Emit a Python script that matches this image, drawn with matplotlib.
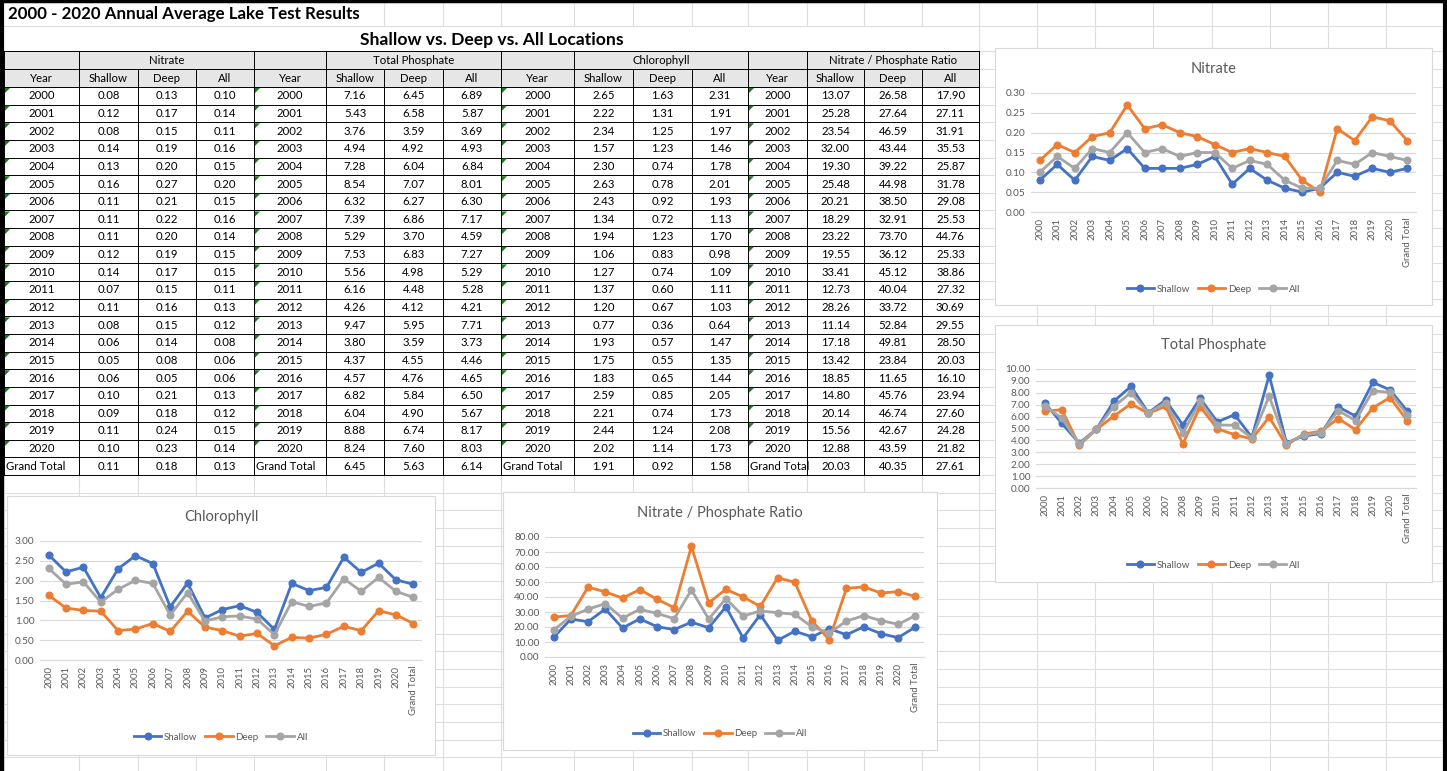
import numpy as np
import matplotlib.pyplot as plt
from matplotlib.patches import Rectangle, Polygon

plt.rcParams['font.family'] = ['Lato', 'DejaVu Sans']

# ---- data (as shown in the sheet) ----
years = [str(y) for y in range(2000, 2021)] + ['Grand Total']

nitrate_shallow = [0.08, 0.12, 0.08, 0.14, 0.13, 0.16, 0.11, 0.11, 0.11, 0.12, 0.14,
                   0.07, 0.11, 0.08, 0.06, 0.05, 0.06, 0.10, 0.09, 0.11, 0.10, 0.11]
nitrate_deep = [0.13, 0.17, 0.15, 0.19, 0.20, 0.27, 0.21, 0.22, 0.20, 0.19, 0.17,
                0.15, 0.16, 0.15, 0.14, 0.08, 0.05, 0.21, 0.18, 0.24, 0.23, 0.18]
nitrate_all = [0.10, 0.14, 0.11, 0.16, 0.15, 0.20, 0.15, 0.16, 0.14, 0.15, 0.15,
               0.11, 0.13, 0.12, 0.08, 0.06, 0.06, 0.13, 0.12, 0.15, 0.14, 0.13]

phos_shallow = [7.16, 5.43, 3.76, 4.94, 7.28, 8.54, 6.32, 7.39, 5.29, 7.53, 5.56,
                6.16, 4.26, 9.47, 3.80, 4.37, 4.57, 6.82, 6.04, 8.88, 8.24, 6.45]
phos_deep = [6.45, 6.58, 3.59, 4.92, 6.04, 7.07, 6.27, 6.86, 3.70, 6.83, 4.98,
             4.48, 4.12, 5.95, 3.59, 4.55, 4.76, 5.84, 4.90, 6.74, 7.60, 5.63]
phos_all = [6.89, 5.87, 3.69, 4.93, 6.84, 8.01, 6.30, 7.17, 4.59, 7.27, 5.29,
            5.28, 4.21, 7.71, 3.73, 4.46, 4.65, 6.50, 5.67, 8.17, 8.03, 6.14]

chl_shallow = [2.65, 2.22, 2.34, 1.57, 2.30, 2.63, 2.43, 1.34, 1.94, 1.06, 1.27,
               1.37, 1.20, 0.77, 1.93, 1.75, 1.83, 2.59, 2.21, 2.44, 2.02, 1.91]
chl_deep = [1.63, 1.31, 1.25, 1.23, 0.74, 0.78, 0.92, 0.72, 1.23, 0.83, 0.74,
            0.60, 0.67, 0.36, 0.57, 0.55, 0.65, 0.85, 0.74, 1.24, 1.14, 0.92]
chl_all = [2.31, 1.91, 1.97, 1.46, 1.78, 2.01, 1.93, 1.13, 1.70, 0.98, 1.09,
           1.11, 1.03, 0.64, 1.47, 1.35, 1.44, 2.05, 1.73, 2.08, 1.73, 1.58]

ratio_shallow = [13.07, 25.28, 23.54, 32.00, 19.30, 25.48, 20.21, 18.29, 23.22, 19.55, 33.41,
                 12.73, 28.26, 11.14, 17.18, 13.42, 18.85, 14.80, 20.14, 15.56, 12.88, 20.03]
ratio_deep = [26.58, 27.64, 46.59, 43.44, 39.22, 44.98, 38.50, 32.91, 73.70, 36.12, 45.12,
              40.04, 33.72, 52.84, 49.81, 23.84, 11.65, 45.76, 46.74, 42.67, 43.59, 40.35]
ratio_all = [17.90, 27.11, 31.91, 35.53, 25.87, 31.78, 29.08, 25.53, 44.76, 25.33, 38.86,
             27.32, 30.69, 29.55, 28.50, 20.03, 16.10, 23.94, 27.60, 24.28, 21.82, 27.61]

blocks = [
    ('Nitrate', nitrate_shallow, nitrate_deep, nitrate_all),
    ('Total Phosphate', phos_shallow, phos_deep, phos_all),
    ('Chlorophyll', chl_shallow, chl_deep, chl_all),
    ('Nitrate / Phosphate Ratio', ratio_shallow, ratio_deep, ratio_all),
]

BLUE, ORANGE, GREY = '#4472C4', '#ED7D31', '#A5A5A5'
TXT = '#595959'
GRIDC = '#dedede'

W, H = 1447, 771
fig = plt.figure(figsize=(W / 100, H / 100), dpi=100)
bg = fig.add_axes([0, 0, 1, 1])
bg.set_xlim(0, W)
bg.set_ylim(H, 0)
bg.axis('off')

# ---- sheet grid ----
col_x = [4, 79, 138, 196, 254, 326, 384, 443, 501, 574, 633, 692, 748, 807, 864, 922, 979,
         1037, 1095, 1153, 1212, 1270, 1328, 1386, 1444]
rh = 17.64
row_y = [26, 51, 69, 87] + [87 + rh * k for k in range(1, 40)]
for x in col_x:
    if x > 370:
        bg.plot([x, x], [0, 26], color=GRIDC, lw=0.8, zorder=0)
    if x > 970:
        bg.plot([x, x], [26, 51], color=GRIDC, lw=0.8, zorder=0)
    bg.plot([x, x], [51, H], color=GRIDC, lw=0.8, zorder=0)
for y in row_y:
    bg.plot([4, W], [y, y], color=GRIDC, lw=0.8, zorder=0)

# ---- titles ----
bg.text(8, 14, '2000 - 2020 Annual Average Lake Test Results', fontsize=12.2, fontweight='bold',
        ha='left', va='center', zorder=3)
bg.text(492, 40, 'Shallow vs. Deep vs. All Locations', fontsize=12.6, fontweight='bold',
        ha='center', va='center', zorder=3)

# ---- table ----
top, hdr2, hdr3 = 51, 69, 87
bottom = 87 + rh * len(years)
bg.add_patch(Rectangle((4, top), 975, hdr3 - top, fc='#e7e6e6', ec='none', zorder=1))
bg.add_patch(Rectangle((4, hdr3), 975, bottom - hdr3, fc='white', ec='none', zorder=1))
lk = dict(color='black', lw=0.7, zorder=2)
for y in [top, hdr2, hdr3] + [hdr3 + rh * k for k in range(1, len(years) + 1)]:
    bg.plot([4, 979], [y, y], **lk)
for i, x in enumerate(col_x[:17]):
    y0 = top if i % 4 in (0, 1) or i == 16 else hdr2
    bg.plot([x, x], [y0, bottom], **lk)

fs = 8.2
for b, (name, sh, dp, al) in enumerate(blocks):
    cx = col_x[4 * b:4 * b + 5]
    bg.text((cx[1] + cx[4]) / 2, (top + hdr2) / 2, name, fontsize=fs, ha='center', va='center', zorder=3)
    for j, lab in enumerate(['Year', 'Shallow', 'Deep', 'All']):
        bg.text((cx[j] + cx[j + 1]) / 2, (hdr2 + hdr3) / 2, lab, fontsize=fs,
                ha='center', va='center', zorder=3)
    for r, yr in enumerate(years):
        yc = hdr3 + rh * (r + 0.5)
        if yr == 'Grand Total':
            t = bg.text(cx[0] + 2, yc, yr, fontsize=fs, ha='left', va='center', zorder=3)
            clip = Rectangle((cx[0], yc - rh / 2), cx[1] - cx[0] - 1, rh, transform=bg.transData)
            t.set_clip_path(clip)
        else:
            bg.text((cx[0] + cx[1]) / 2, yc, yr, fontsize=fs, ha='center', va='center', zorder=3)
            ty = hdr3 + rh * r
            bg.add_patch(Polygon([[cx[0] + 1, ty + 1], [cx[0] + 6, ty + 1], [cx[0] + 1, ty + 6]],
                                 closed=True, fc='#1e7b1e', ec='none', zorder=3))
        for j, v in enumerate([sh[r], dp[r], al[r]]):
            bg.text((cx[j + 1] + cx[j + 2]) / 2, yc, f'{v:.2f}', fontsize=fs,
                    ha='center', va='center', zorder=3)

# sheet frame
bg.plot([2, 2], [0, H], color='black', lw=3, zorder=5)
bg.plot([0, W], [1, 1], color='black', lw=2.5, zorder=5)
bg.plot([1444.5, 1444.5], [0, H], color='black', lw=3, zorder=5)


def add_chart(box, plot, title, title_y, legend_y, series, ymax, ystep):
    l, t, r, b = box
    bg.add_patch(Rectangle((l, t), r - l, b - t, fc='white', ec='#d9d9d9', lw=0.8, zorder=4))
    pl, pt, pr, pb = plot
    ax = fig.add_axes([pl / W, 1 - pb / H, (pr - pl) / W, (pb - pt) / H])
    ax.set_zorder(6)
    ax.patch.set_alpha(0)
    x = np.arange(len(years))
    for lab, vals, c in zip(['Shallow', 'Deep', 'All'], series, [BLUE, ORANGE, GREY]):
        ax.plot(x, vals, color=c, lw=2, marker='o', ms=4.8, label=lab, clip_on=False)
    ax.set_xlim(-0.5, len(years) - 0.5)
    ax.set_ylim(0, ymax)
    ax.set_yticks(np.arange(0, ymax + ystep / 2, ystep))
    ax.yaxis.set_major_formatter(plt.FormatStrFormatter('%.2f'))
    ax.set_xticks(x, labels=years, rotation=90)
    ax.tick_params(axis='x', length=0, pad=4, labelsize=6.8, labelcolor=TXT)
    ax.tick_params(axis='y', length=0, pad=4, labelsize=7.2, labelcolor=TXT)
    ax.grid(axis='y', color='#d9d9d9', lw=0.8)
    ax.set_axisbelow(True)
    for s in ['top', 'right', 'left']:
        ax.spines[s].set_visible(False)
    ax.spines['bottom'].set_color('#d9d9d9')
    cxm = (l + r) / 2
    fig.text(cxm / W, 1 - title_y / H, title, fontsize=10.5, color=TXT,
             ha='center', va='center', zorder=7)
    ax.legend(loc='center', bbox_to_anchor=(cxm / W, 1 - legend_y / H),
              bbox_transform=fig.transFigure, ncol=3, frameon=False, fontsize=7,
              labelcolor=TXT, handlelength=2.8, columnspacing=0.8, handletextpad=0.3)
    return ax


add_chart((995, 48, 1432, 305), (1031, 93, 1416, 212), 'Nitrate', 69, 289,
          (nitrate_shallow, nitrate_deep, nitrate_all), 0.30, 0.05)
add_chart((995, 325, 1432, 582), (1036, 369, 1416, 488), 'Total Phosphate', 345, 565,
          (phos_shallow, phos_deep, phos_all), 10, 1)
add_chart((7, 496, 435, 755), (40, 541, 422, 660), 'Chlorophyll', 517, 737,
          (chl_shallow, chl_deep, chl_all), 3, 0.5)
add_chart((503, 492, 937, 750), (545, 537, 924, 657), 'Nitrate / Phosphate Ratio', 513, 734,
          (ratio_shallow, ratio_deep, ratio_all), 80, 10)

fig.savefig('out.png', dpi=100)
